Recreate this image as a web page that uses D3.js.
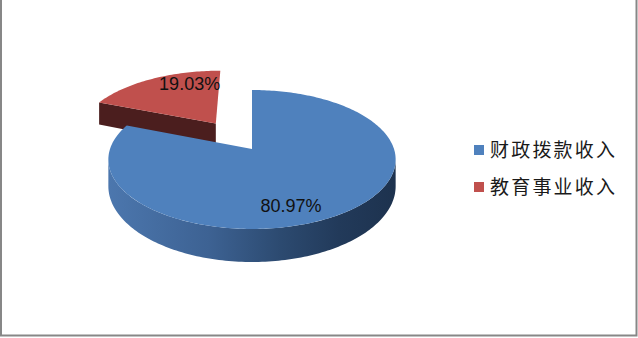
<!DOCTYPE html>
<html>
<head>
<meta charset="utf-8">
<script src="https://cdn.jsdelivr.net/npm/d3@7"></script>
<style>
  body { margin: 0; background: #fff; }
  svg { display: block; }
</style>
</head>
<body>
<script>
// data
var categories = ["财政拨款收入", "教育事业收入"];
var values = [80.97, 19.03];
var labels = ["80.97%", "19.03%"];
var topColors = ["#4F81BD", "#C0504D"];
var explode = [0, 0.48];

var W = 638, H = 338;
var cx = 252, cy = 149;      // pie centre on screen
var R = 142, RY = 67.9;      // radius across / radius in depth
var K = 0.151;               // perspective strength
var DEPTH = 25.8;            // thickness of the pie

var svg = d3.select("body").append("svg")
  .attr("width", W)
  .attr("height", H);

// frame
svg.append("path")
  .attr("d", "M1,0 V335.5 H636.5 V0")
  .attr("fill", "none")
  .attr("stroke", "#878787")
  .attr("stroke-width", 2);

var defs = svg.append("defs");

// project a point of the disk (px right, pz toward viewer) to the screen
function proj(px, pz, down) {
  var f = 1 / (1 - K * pz);
  return [cx + R * px * f, cy + RY * pz * f + (down ? DEPTH * Math.pow(f, 1.5) : 0)];
}

function arcPts(o, a0, a1, down) {
  var pts = [], n = Math.max(2, Math.ceil(Math.abs(a1 - a0) / 0.02));
  for (var i = 0; i <= n; i++) {
    var a = a0 + (a1 - a0) * i / n;
    pts.push(proj(o[0] + Math.sin(a), o[1] - Math.cos(a), down));
  }
  return pts;
}

var line = d3.line();

var slices = d3.pie().sort(null).value(function (d) { return d; })(values);
slices.forEach(function (s, i) {
  var mid = (s.startAngle + s.endAngle) / 2;
  s.offset = [explode[i] * Math.sin(mid), -explode[i] * Math.cos(mid)];
  s.mid = mid;
});

// side gradient of the blue slice
var grad = defs.append("linearGradient")
  .attr("id", "sideBlue")
  .attr("gradientUnits", "userSpaceOnUse")
  .attr("x1", cx - R * 1.02).attr("x2", cx + R * 1.02)
  .attr("y1", 0).attr("y2", 0);
grad.selectAll("stop")
  .data([[0, "#4c77ae"], [0.35, "#3d6293"], [0.6, "#2c4a70"], [0.8, "#223a5a"], [1, "#1d324e"]])
  .enter().append("stop")
  .attr("offset", function (d) { return d[0]; })
  .attr("stop-color", function (d) { return d[1]; });

var sideColors = ["url(#sideBlue)", "#4b1e1e"];
var cutColors = ["#2a4468", "#4b1e1e"];

// silhouette angles, where the rim turns away from the viewer
var silR = Math.acos(-K), silL = 2 * Math.PI - silR;

var g = svg.append("g");

// draw the exploded (back) slice first, then the front one
[1, 0].forEach(function (i) {
  var s = slices[i], o = s.offset;

  // cut face at the start edge (faces the viewer)
  var apexT = proj(o[0], o[1], false), apexB = proj(o[0], o[1], true);
  var edgeT = proj(o[0] + Math.sin(s.startAngle), o[1] - Math.cos(s.startAngle), false);
  var edgeB = proj(o[0] + Math.sin(s.startAngle), o[1] - Math.cos(s.startAngle), true);
  if (Math.cos(s.startAngle - Math.PI / 2) < 0) {
    g.append("path")
      .attr("d", line([apexT, edgeT, edgeB, apexB]) + "Z")
      .attr("fill", cutColors[i]);
  }

  // rim
  var a0 = Math.max(s.startAngle, silR), a1 = Math.min(s.endAngle, silL);
  if (a1 > a0) {
    var rim = arcPts(o, a0, a1, false).concat(arcPts(o, a1, a0, true));
    g.append("path")
      .attr("d", line(rim) + "Z")
      .attr("fill", sideColors[i]);
  }

  // top face
  var top = [apexT].concat(arcPts(o, s.startAngle, s.endAngle, false));
  g.append("path")
    .attr("d", line(top) + "Z")
    .attr("fill", topColors[i]);
});

// data labels
var LABEL_R = 0.78, LABEL_SHIFT = 16 * Math.PI / 180;
svg.selectAll("text.lbl")
  .data(slices)
  .enter().append("text")
  .attr("class", "lbl")
  .attr("x", function (s) {
    var a = s.mid + LABEL_SHIFT;
    return proj(s.offset[0] + LABEL_R * Math.sin(a), s.offset[1] - LABEL_R * Math.cos(a), false)[0];
  })
  .attr("y", function (s) {
    var a = s.mid + LABEL_SHIFT;
    return proj(s.offset[0] + LABEL_R * Math.sin(a), s.offset[1] - LABEL_R * Math.cos(a), false)[1] + 6.5;
  })
  .attr("text-anchor", "middle")
  .attr("font-family", "'Liberation Sans', Arial, sans-serif")
  .attr("font-size", 18)
  .attr("fill", "#111")
  .text(function (s, i) { return labels[i]; });

// legend
var legendY = d3.scalePoint().domain(categories).range([150, 187]);
var legend = svg.selectAll("g.legend")
  .data(categories)
  .enter().append("g")
  .attr("class", "legend")
  .attr("transform", function (d) { return "translate(474," + legendY(d) + ")"; });
legend.append("rect")
  .attr("x", 0).attr("y", -5)
  .attr("width", 10).attr("height", 10)
  .attr("fill", function (d, i) { return topColors[i]; });
legend.append("text")
  .attr("x", 16)
  .attr("y", 0)
  .attr("dy", "0.35em")
  .attr("font-family", "'Noto Sans CJK SC', sans-serif")
  .attr("font-size", 19)
  .attr("letter-spacing", 2.2)
  .attr("fill", "#1a1a1a")
  .text(function (d) { return d; });
</script>
</body>
</html>
